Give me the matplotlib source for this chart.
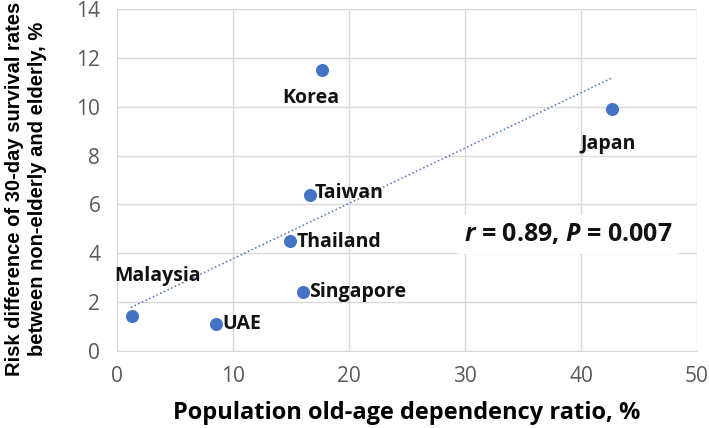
import numpy as np
import matplotlib.pyplot as plt

countries = ['Malaysia', 'UAE', 'Thailand', 'Singapore', 'Taiwan', 'Korea', 'Japan']
dependency_ratio = [1.3, 8.5, 14.9, 16.0, 16.6, 17.7, 42.7]
risk_difference = [1.4, 1.1, 4.5, 2.4, 6.4, 11.5, 9.9]

# label offsets in points (dx, dy) and alignment per country
label_pos = {
    'Malaysia': ((-13, 29), 'left'),
    'UAE': ((5, 0), 'left'),
    'Thailand': ((5, -1), 'left'),
    'Singapore': ((5, 0), 'left'),
    'Taiwan': ((4, 1), 'left'),
    'Korea': ((-8, -20), 'center'),
    'Japan': ((-3, -25), 'center'),
}

plt.rcParams['font.family'] = ['Open Sans', 'DejaVu Sans']
plt.rcParams['mathtext.fontset'] = 'custom'
plt.rcParams['mathtext.it'] = 'Open Sans:italic:bold'
plt.rcParams['mathtext.rm'] = 'Open Sans:bold'

fig = plt.figure(figsize=(7.09, 4.28), dpi=100)
ax = fig.add_axes([0.165, 0.181, 0.818, 0.797])

blue = '#4472C4'
ax.scatter(dependency_ratio, risk_difference, s=70, color=blue, zorder=3)

# linear trendline
slope, intercept = np.polyfit(dependency_ratio, risk_difference, 1)
xs = np.array([min(dependency_ratio) - 0.1, max(dependency_ratio)])
ax.plot(xs, slope * xs + intercept, linestyle=':', color=blue, linewidth=1.1, zorder=2)

for name, x, y in zip(countries, dependency_ratio, risk_difference):
    (dx, dy), ha = label_pos[name]
    ax.annotate(name, (x, y), xytext=(dx, dy), textcoords='offset points',
                ha=ha, va='center', fontsize=14, fontweight='bold', color='#111111')

ax.text(38.9, 4.75, r'$\mathit{r}$ = 0.89, $\mathit{P}$ = 0.007', ha='center', va='center',
        fontsize=18, fontweight='bold', color='#111111',
        bbox=dict(facecolor='white', edgecolor='none', pad=5), zorder=4)

ax.set_xlim(0, 50)
ax.set_ylim(0, 14)
ax.set_xticks(range(0, 51, 10))
ax.set_yticks(range(0, 15, 2))
ax.grid(True, color='#d9d9d9', linewidth=1)
ax.set_axisbelow(True)
for side in ['top', 'right', 'left']:
    ax.spines[side].set_visible(False)
ax.spines['bottom'].set_color('#d9d9d9')
ax.tick_params(length=0, labelsize=15, labelcolor='#595959')
ax.tick_params(axis='x', pad=11)
ax.tick_params(axis='y', pad=12)

ax.set_xlabel('Population old-age dependency ratio, %', fontsize=17, fontweight='bold', labelpad=10)
ax.set_ylabel('Risk difference of 30-day survival rates\nbetween non-elderly and elderly, %',
              family=['Liberation Sans', 'DejaVu Sans'], fontsize=14.5,
              fontweight='bold', linespacing=1.3, ha='center', va='center')
ax.yaxis.set_label_coords(-0.157, 0.475)

fig.savefig('out.png', dpi=100)
